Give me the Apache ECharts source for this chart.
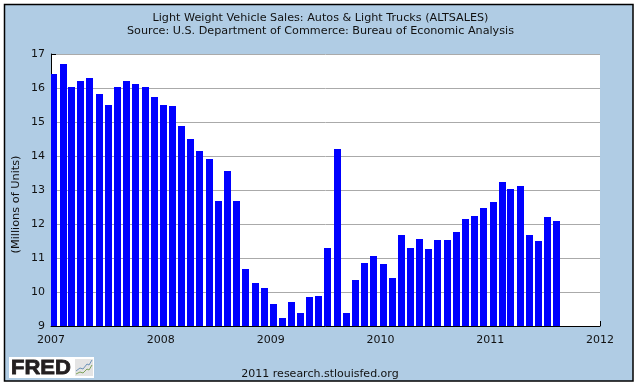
<!DOCTYPE html>
<html>
<head>
<meta charset="utf-8">
<script src="https://cdn.jsdelivr.net/npm/echarts@6/dist/echarts.min.js"></script>
<style>
    html, body { margin: 0; padding: 0; background: #fff; }
    #chart { width: 637px; height: 383px; }
</style>
</head>
<body>
<div id="chart"></div>
<script>
const meses = [
    '2007-01', '2007-02', '2007-03', '2007-04', '2007-05', '2007-06', '2007-07', '2007-08', '2007-09', '2007-10', '2007-11', '2007-12',
    '2008-01', '2008-02', '2008-03', '2008-04', '2008-05', '2008-06', '2008-07', '2008-08', '2008-09', '2008-10', '2008-11', '2008-12',
    '2009-01', '2009-02', '2009-03', '2009-04', '2009-05', '2009-06', '2009-07', '2009-08', '2009-09', '2009-10', '2009-11', '2009-12',
    '2010-01', '2010-02', '2010-03', '2010-04', '2010-05', '2010-06', '2010-07', '2010-08', '2010-09', '2010-10', '2010-11', '2010-12',
    '2011-01', '2011-02', '2011-03', '2011-04', '2011-05', '2011-06', '2011-07', '2011-08'
];
const ventas = [
    16.41, 16.71, 16.03, 16.21, 16.29, 15.82, 15.50, 16.03, 16.21, 16.12, 16.03, 15.74,
    15.50, 15.47, 14.89, 14.51, 14.16, 13.92, 12.69, 13.57, 12.69, 10.69, 10.27, 10.13,
    9.66, 9.25, 9.72, 9.39, 9.86, 9.89, 11.30, 14.22, 9.39, 10.36, 10.86, 11.07,
    10.83, 10.41, 11.69, 11.30, 11.57, 11.27, 11.54, 11.54, 11.77, 12.16, 12.25, 12.48,
    12.66, 13.25, 13.04, 13.13, 11.69, 11.51, 12.22, 12.10
];

const fuente = '"DejaVu Sans", sans-serif';
const anchoBarra = 7;

let chart = echarts.init(document.getElementById('chart'), null, { renderer: 'canvas' });

// Barra que arranca en el primer dia del mes. Con type 'bar' el eje de tiempo se ensancha solo.
const dibujarBarra = (params, api) => {
    const arriba = api.coord([api.value(0), api.value(1)]);
    const abajo = api.coord([api.value(0), 9]);
    return {
        type: 'rect',
        shape: {
            x: Math.round(arriba[0] - 0.7),
            y: Math.round(arriba[1]),
            width: anchoBarra,
            height: Math.round(abajo[1]) - Math.round(arriba[1])
        },
        style: { fill: '#0000ff' }
    };
};

const option = {
    animation: false,
    backgroundColor: '#fff',
    title: [{
        text: 'Light Weight Vehicle Sales: Autos & Light Trucks (ALTSALES)\nSource: U.S. Department of Commerce: Bureau of Economic Analysis',
        left: 315.5,
        top: 7,
        textAlign: 'center',
        textStyle: { fontFamily: fuente, fontSize: 11.2, fontWeight: 'normal', color: '#111', lineHeight: 13 }
    }, {
        text: '2011 research.stlouisfed.org',
        left: 315,
        top: 364,
        textAlign: 'center',
        textStyle: { fontFamily: fuente, fontSize: 11, fontWeight: 'normal', color: '#111' }
    }],
    grid: { left: 51, top: 54, width: 549, height: 272, show: true, backgroundColor: '#fff', borderWidth: 0 },
    xAxis: {
        type: 'time',
        min: '2007-01-01',
        max: '2012-01-01',
        splitNumber: 5,
        axisLine: { onZero: false, lineStyle: { color: '#000', width: 1 } },
        axisTick: { inside: true, length: 5, lineStyle: { color: '#000' } },
        axisLabel: {
            formatter: (v) => String(new Date(v).getFullYear()),
            fontFamily: fuente, fontSize: 11, color: '#111', margin: 9,
            hideOverlap: false, showMinLabel: true, showMaxLabel: true
        },
        splitLine: { show: false }
    },
    yAxis: {
        type: 'value',
        min: 9,
        max: 17,
        interval: 1,
        axisLine: { show: true, lineStyle: { color: '#000', width: 1 } },
        axisTick: { show: true, inside: true, length: 5, lineStyle: { color: '#000' } },
        axisLabel: { fontFamily: fuente, fontSize: 11, color: '#111', margin: 6 },
        splitLine: { show: true, lineStyle: { color: '#aaa', width: 1 } }
    },
    series: [{
        type: 'custom',
        clip: true,
        renderItem: dibujarBarra,
        encode: { x: 0, y: 1 },
        data: meses.map((m, i) => [m + '-01', ventas[i]])
    }],
    graphic: [
        { type: 'rect', z: -10, silent: true, shape: { x: 4.5, y: 4.5, width: 628.5, height: 376.5 }, style: { fill: '#b0cce4', stroke: '#000', lineWidth: 1.5 } },
        // el titulo del eje no va centrado sobre el eje en el original
        { type: 'text', z: 6, silent: true, x: 16.5, y: 204.5, rotation: Math.PI / 2, style: { text: '(Millions of Units)', fontFamily: fuente, fontSize: 11.3, fill: '#111', textAlign: 'center', textVerticalAlign: 'middle' } },
        { type: 'rect', z: 5, silent: true, shape: { x: 9, y: 357, width: 85, height: 21 }, style: { fill: '#fff' } },
        { type: 'text', z: 6, silent: true, x: 11, y: 358, scaleX: 1.1, style: { text: 'FRED', fontFamily: '"Liberation Sans", sans-serif', fontSize: 20, fontWeight: 'bold', fill: '#231f20', stroke: '#231f20', lineWidth: 0.8 } },
        { type: 'rect', z: 6, silent: true, shape: { x: 75, y: 359, width: 18, height: 17 }, style: { fill: '#e4e4e4' } },
        { type: 'polyline', z: 7, silent: true, shape: { points: [[76, 371], [80, 368], [83, 369], [87, 364], [89, 365], [92, 360]] }, style: { stroke: '#6d93b8', lineWidth: 1, fill: null } },
        { type: 'polyline', z: 7, silent: true, shape: { points: [[76, 374], [80, 372], [83, 373], [87, 369], [89, 370], [92, 365]] }, style: { stroke: '#7fa35a', lineWidth: 1, fill: null } }
    ]
};

option && chart.setOption(option);
window.addEventListener('resize', chart.resize);
</script>
</body>
</html>
